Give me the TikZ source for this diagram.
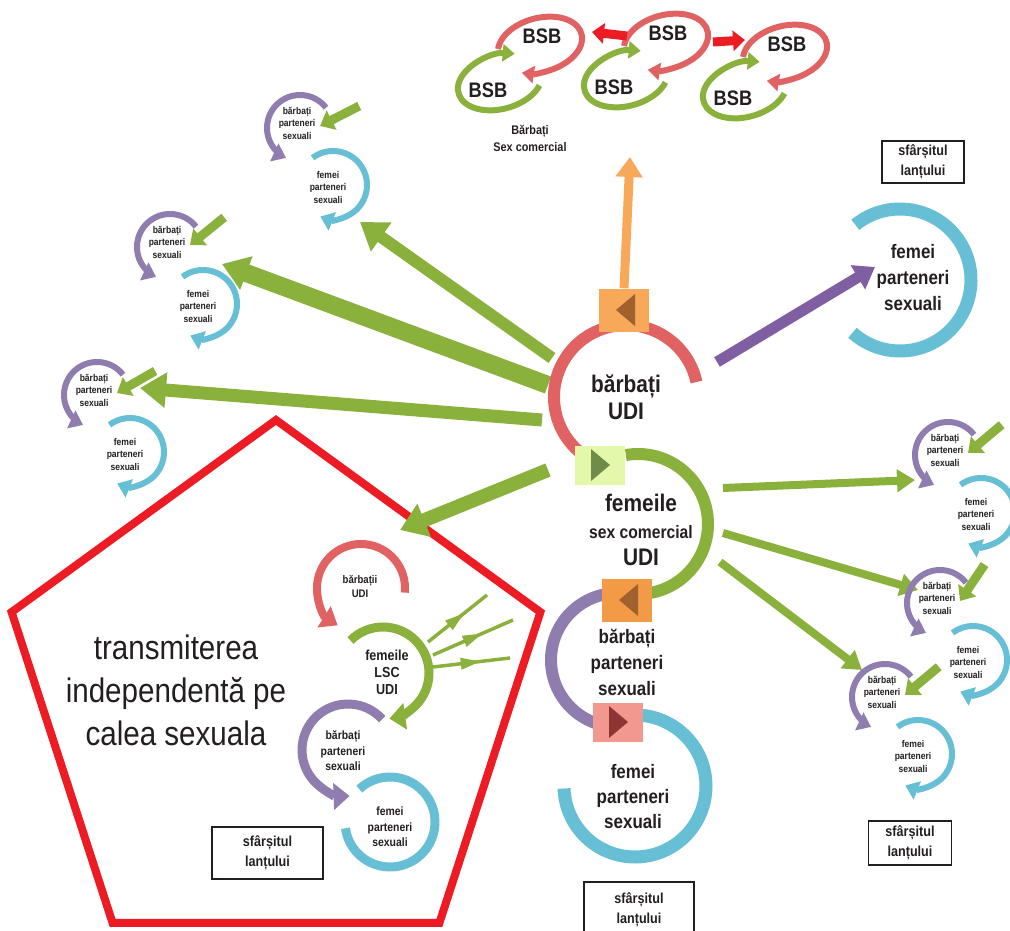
\documentclass[tikz,border=0pt]{standalone}
\usepackage{fontspec}
\setmainfont{Liberation Sans}[FakeStretch=0.87]
\usetikzlibrary{arrows.meta, shapes.geometric, decorations.markings}

\definecolor{ink}{HTML}{231F20}
\definecolor{ringred}{HTML}{E16262}
\definecolor{hotred}{HTML}{ED1C24}
\definecolor{leaf}{HTML}{8BB13D}
\definecolor{lilac}{HTML}{8F7DB0}
\definecolor{plum}{HTML}{7F5FA2}
\definecolor{sky}{HTML}{67BFD5}
\definecolor{peach}{HTML}{F8A859}
\definecolor{amber}{HTML}{F39A47}
\definecolor{lime}{HTML}{E3F8AA}
\definecolor{rose}{HTML}{F2988F}
\definecolor{bark}{HTML}{A0612E}
\definecolor{moss}{HTML}{6F8C48}
\definecolor{wine}{HTML}{8E3434}

\newcommand{\lblfont}[2]{\fontsize{#1}{#2}\selectfont\bfseries}

\tikzset{
  lbl/.style={text=ink, align=center, inner sep=0pt},
  bigarrow/.style={leaf, -{Triangle[width=34pt,length=26pt]}},
  sidearrow/.style={leaf, line width=8pt, -{Triangle[width=22pt,length=18pt]}},
  midarrow/.style={leaf, line width=3.5pt, postaction={decorate},
    decoration={markings, mark=at position 0.62 with {\arrow{Triangle[width=11pt,length=20pt]}}}},
  endbox/.style={draw=ink, line width=1.2pt, text=ink, align=center, font=\lblfont{14.5}{20}, inner sep=0pt},
  sqleft/.style 2 args={fill=#1, minimum width=50pt, minimum height=43pt, inner sep=0pt,
    path picture={\fill[#2] ([xshift=-8pt]path picture bounding box.center) -- ++(19,16) -- ++(0,-32) -- cycle;}},
  sqright/.style 2 args={fill=#1, minimum width=50pt, minimum height=39pt, inner sep=0pt,
    path picture={\fill[#2] ([xshift=10pt]path picture bounding box.center) -- ++(-19,16) -- ++(0,-32) -- cycle;}},
  unit/.pic={
    \draw[lilac, line width=6pt, -{Triangle[width=19pt,length=13pt]}] (38:33) arc[start angle=38, end angle=245, radius=33];
    \draw[sky, line width=6pt, -{Triangle[width=19pt,length=13pt]}] ([shift={(127:34)}]33,-57) arc[start angle=127, end angle=-112, radius=34];
    \node[lbl, font=\lblfont{9.8}{12.5}] (-b) at (-3,5) {bărbați\\parteneri\\sexuali};
    \node[lbl, font=\lblfont{9.8}{12.5}] (-f) at (28,-59) {femei\\parteneri\\sexuali};
    \draw[leaf, line width=9pt, -{Triangle[width=21pt,length=13pt]}] ([shift={(#1:44)}]20,2) -- (20,2);
  },
  bsbpair/.pic={
    \draw[leaf, line width=6pt, shift={(-40,-37)}, rotate=15, -{Triangle[width=17pt,length=12pt]}]
      (-30:43 and 27) arc[start angle=-30, end angle=-300, x radius=43, y radius=27];
    \draw[ringred, line width=6pt, rotate=15, -{Triangle[width=17pt,length=12pt]}]
      (165:43 and 27) arc[start angle=165, end angle=-125, x radius=43, y radius=27];
    \node[lbl, font=\lblfont{21}{21}] (-r) at (2,9) {BSB};
    \node[lbl, font=\lblfont{21}{21}] (-g) at (-52,-45) {BSB};
  }
}

\begin{document}
\begin{tikzpicture}[x=1pt, y=1pt]
  \useasboundingbox (0,0) rectangle (1010,-931);

  % pentagon
  \node[draw=hotred, line width=8pt, regular polygon, regular polygon sides=5,
        minimum size=556pt, inner sep=0pt] (pent) at (276,-698) {};
  \node[lbl, font=\fontsize{34}{43}\selectfont] (ptxt) at (176,-690) {transmiterea\\independentă pe\\calea sexuala};

  % BSB groups
  \pic (b1) at (540,-45) {bsbpair};
  \pic (b2) at (666,-42) {bsbpair};
  \pic (b3) at (785,-53) {bsbpair};
  \coordinate (lS) at (627,-36);  \coordinate (lT) at (592,-32);
  \coordinate (rS) at (713,-42);  \coordinate (rT) at (745,-40);
  \draw[hotred, line width=9pt, -{Triangle[width=20pt,length=12pt]}] (lS) -- (lT);
  \draw[hotred, line width=9pt, -{Triangle[width=20pt,length=12pt]}] (rS) -- (rT);
  \node[lbl, font=\lblfont{12.5}{17}] (bsbcap) at (530,-138) {Bărbați\\Sex comercial};

  % big arrows out of the centre
  \foreach \n/\w/\ax/\ay/\bx/\by in {g1/12/552/358/360/222, g2/18/548/385/222/264,
                                     g3/13/542/420/140/388, g4/14/548/470/400/530}{
    \coordinate (\n s) at (\ax,-\ay);
    \coordinate (\n t) at (\bx,-\by);
    \draw[bigarrow, line width=\w pt] (\n s) -- (\n t);
  }
  \foreach \n/\ax/\ay/\bx/\by in {r1/723/488/915/480, r2/723/533/918/590, r3/720/562/862/670}{
    \coordinate (\n s) at (\ax,-\ay);
    \coordinate (\n t) at (\bx,-\by);
    \draw[sidearrow] (\n s) -- (\n t);
  }
  \coordinate (pS) at (717,-362);
  \coordinate (pT) at (875,-267);
  \draw[plum, line width=11pt, -{Triangle[width=27pt,length=20pt]}] (pS) -- (pT);

  % small units
  \pic (u1) at (300,-128) {unit=27};
  \pic (u2) at (170,-247) {unit=39};
  \pic (u3) at (97,-395) {unit=30};
  \pic (u4) at (948,-455) {unit=40};
  \pic (u5) at (940,-603) {unit=56};
  \pic (u6) at (885,-697) {unit=40};

  % right ring
  \draw[sky, line width=13pt] ([shift={(129:71)}]900,-280) arc[start angle=129, end angle=-132, radius=71];
  \node[lbl, font=\lblfont{19.5}{26}] (fR) at (913,-278) {femei\\parteneri\\sexuali};

  % central chain
  \draw[ringred, line width=12pt] ([shift={(12:72)}]626,-397) arc[start angle=12, end angle=240, radius=72];
  \draw[leaf, line width=12pt] ([shift={(100:70)}]638,-524) arc[start angle=100, end angle=-92, radius=70];
  \draw[lilac, line width=12pt] ([shift={(85:67)}]618,-660) arc[start angle=85, end angle=260, radius=67];
  \draw[sky, line width=13pt] ([shift={(90:71)}]635,-786) arc[start angle=90, end angle=-178, radius=71];

  \node[sqleft={peach}{bark}] (sq1) at (624,-310) {};
  \node[sqright={lime}{moss}] (sq2) at (600,-465) {};
  \node[sqleft={amber}{bark}] (sq3) at (627,-600) {};
  \node[sqright={rose}{wine}] (sq4) at (618,-722) {};
  \coordinate (upT) at (630,-157);
  \draw[peach, line width=9pt, -{Triangle[width=26pt,length=20pt]}] (sq1.north) -- (upT);

  \node[lbl, font=\lblfont{24}{27}] (bUDI) at (626,-397) {bărbați\\UDI};
  \node[lbl, font=\lblfont{24}{27}] (fSC) at (641,-530) {femeile\\\lblfont{18}{26}sex comercial\\\lblfont{24}{27}UDI};
  \node[lbl, font=\lblfont{19.5}{26}] (bPS) at (627,-662) {bărbați\\parteneri\\sexuali};
  \node[lbl, font=\lblfont{19.5}{25}] (fPS) at (633,-797) {femei\\parteneri\\sexuali};

  % chain inside the pentagon
  \draw[ringred, line width=8pt, -{Triangle[width=24pt,length=16pt]}] ([shift={(-6:44)}]361,-588) arc[start angle=-6, end angle=238, radius=44];
  \draw[leaf, line width=9pt, -{Triangle[width=26pt,length=16pt]}] ([shift={(135:46)}]383,-673) arc[start angle=135, end angle=-82, radius=46];
  \draw[lilac, line width=9pt, -{Triangle[width=26pt,length=16pt]}] ([shift={(42:46)}]348,-750) arc[start angle=42, end angle=272, radius=46];
  \draw[sky, line width=9pt] ([shift={(133:45)}]390,-822) arc[start angle=133, end angle=-172, radius=45];
  \node[lbl, font=\lblfont{11}{14}] (p1) at (360,-587) {bărbații\\UDI};
  \node[lbl, font=\lblfont{14.5}{17}] (p2) at (387,-672) {femeile\\LSC\\UDI};
  \node[lbl, font=\lblfont{12}{15.5}] (p3) at (343,-751) {bărbați\\parteneri\\sexuali};
  \node[lbl, font=\lblfont{12}{15.5}] (p4) at (390,-827) {femei\\parteneri\\sexuali};
  \foreach \n/\ax/\ay/\bx/\by in {t1/428/642/487/595, t2/433/655/513/620, t3/433/667/510/658}{
    \coordinate (\n s) at (\ax,-\ay);
    \coordinate (\n t) at (\bx,-\by);
    \draw[midarrow] (\n s) -- (\n t);
  }

  % end boxes
  \node[endbox, minimum width=82pt, minimum height=42pt] (end1) at (923,-162) {sfârșitul\\lanțului};
  \node[endbox, minimum width=111pt, minimum height=52pt] (end2) at (267.5,-853) {sfârșitul\\lanțului};
  \node[endbox, minimum width=83pt, minimum height=44pt] (end3) at (910,-843) {sfârșitul\\lanțului};
  \node[endbox, minimum width=110pt, minimum height=56pt] (end4) at (639,-910) {sfârșitul\\lanțului};
\end{tikzpicture}
\end{document}
